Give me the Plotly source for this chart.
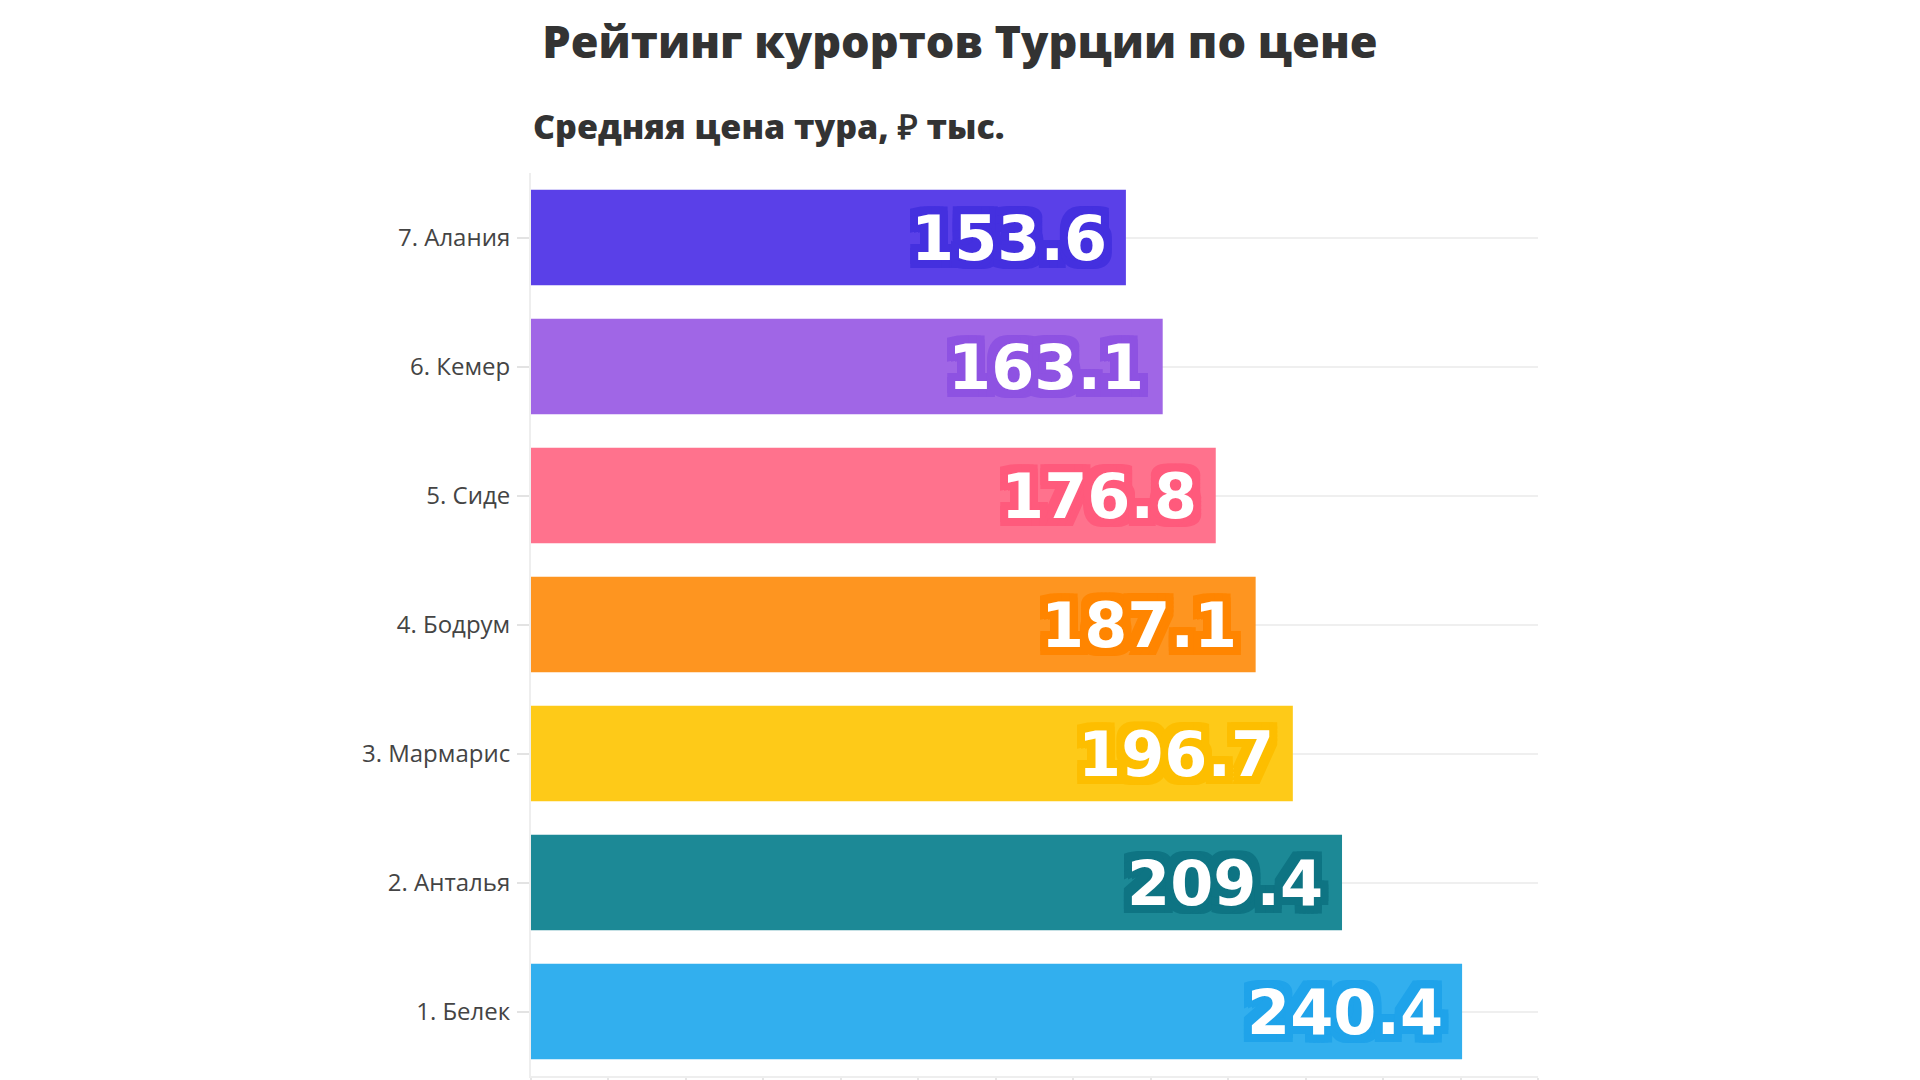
import plotly.graph_objects as go

resorts = ["1. Белек", "2. Анталья", "3. Мармарис", "4. Бодрум", "5. Сиде", "6. Кемер", "7. Алания"]
prices = [240.4, 209.4, 196.7, 187.1, 176.8, 163.1, 153.6]
bar_colors = ["#32AFEE", "#1C8996", "#FECA18", "#FE9520", "#FF728D", "#A066E6", "#5A40E8"]
halo_colors = ["#1FA3EA", "#0E7483", "#FDBE00", "#FF8500", "#FF5A7C", "#8E52E2", "#4430DF"]
x_ticks = list(range(0, 261, 20))

title_text = "Рейтинг курортов Турции по цене"
subtitle_text = "Средняя цена тура, ₽ тыс."

OFF = 8  # default page margin of the html body


def halo(color, r=8):
    offs = []
    for dx in (-r, 0, r):
        for dy in (-r, 0, r):
            if dx == 0 and dy == 0:
                continue
            offs.append(f"{dx}px {dy}px 0 {color}")
    h = r // 2
    for dx, dy in ((-h, -r), (h, -r), (-h, r), (h, r), (-r, -h), (-r, h), (r, -h), (r, h)):
        offs.append(f"{dx}px {dy}px 0 {color}")
    return ", ".join(offs)


fig = go.Figure()
fig.add_trace(go.Bar(
    x=prices,
    y=resorts,
    orientation="h",
    marker=dict(color=bar_colors, line=dict(width=0)),
    width=0.74,
    hoverinfo="x+y",
))

for name, val, hc in zip(resorts, prices, halo_colors):
    fig.add_annotation(
        x=val, y=name, xref="x", yref="y",
        text=f"{val:.1f}",
        showarrow=False,
        xanchor="right", yanchor="middle",
        xshift=-17, yshift=-1,
        font=dict(family="DejaVu Sans", size=62, color="white", weight="bold", shadow=halo(hc)),
    )

fig.add_annotation(
    text=subtitle_text,
    showarrow=False,
    x=0, xref="paper", xanchor="left",
    y=1, yref="paper", yanchor="middle", yshift=(173 - 126),
    font=dict(family="Open Sans", size=34, color="#333333", weight=800),
)

fig.update_layout(
    width=1920, height=1080,
    paper_bgcolor="white", plot_bgcolor="white",
    margin=dict(l=531 - OFF, r=1920 - 1538 + OFF, t=173 - OFF, b=4),
    title=dict(
        text=title_text,
        x=(960 - OFF) / 1920, xanchor="center", xref="container",
        y=1 - (42 - OFF) / 1080, yref="container", yanchor="middle",
        font=dict(family="Open Sans", size=45, color="#333333", weight=800),
    ),
    showlegend=False,
    bargap=0.26,
)

fig.update_xaxes(
    range=[0, 260],
    tickvals=x_ticks,
    showticklabels=False,
    ticks="outside", ticklen=8, tickcolor="#e6e6e6", tickwidth=2,
    showgrid=False,
    showline=True, linecolor="#eeeeee", linewidth=2,
    zeroline=False,
    fixedrange=True,
)
fig.update_yaxes(
    categoryorder="array", categoryarray=resorts,
    ticks="outside", ticklen=12, tickcolor="#e3e3e3", tickwidth=2,
    ticklabelstandoff=2,
    tickfont=dict(family="Open Sans", size=24, color="#444444"),
    showgrid=True, gridcolor="#efefef", gridwidth=2,
    showline=True, linecolor="#eeeeee", linewidth=2,
    fixedrange=True,
    layer="below traces",
)

fig.write_html("out.html")
